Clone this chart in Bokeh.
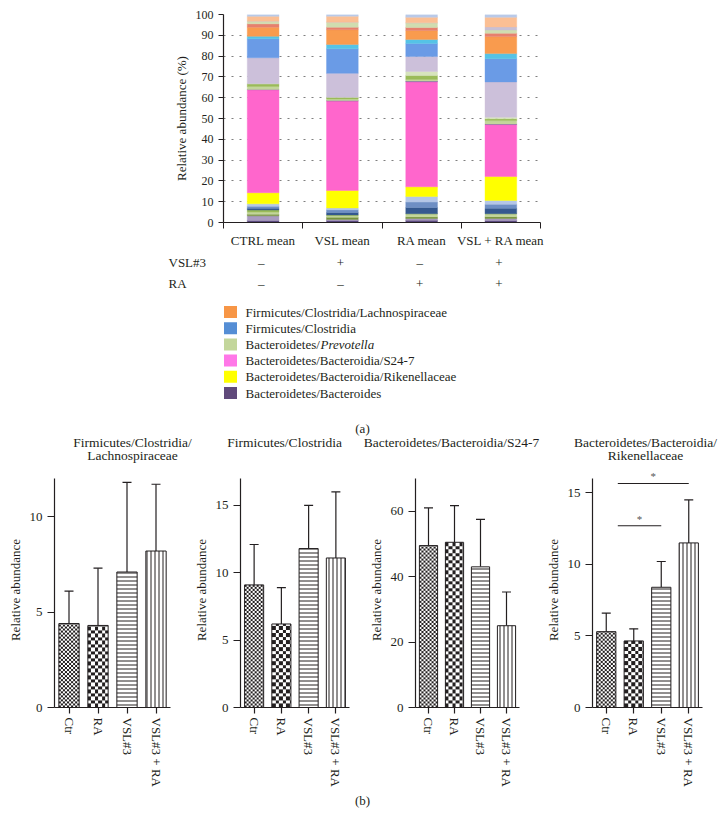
import numpy as np
from bokeh.plotting import figure
from bokeh.layouts import column, row
from bokeh.models import Range1d, FixedTicker, ColumnDataSource, Whisker, TeeHead
from bokeh.embed import file_html
from bokeh.resources import INLINE
from bokeh.core.properties import value

FONT = "Liberation Serif"
INK = "#231f20"

# ---------------- (a) data: mean relative abundance (%) ----------------
groups_a = ["CTRL mean", "VSL mean", "RA mean", "VSL + RA mean"]
vsl3_flags = ["\u2013", "+", "\u2013", "+"]
ra_flags = ["\u2013", "\u2013", "+", "+"]

# stack, bottom to top; values in order CTRL, VSL, RA, VSL+RA
bacteroides = [1.0, 1.0, 1.1, 1.0]
other_lavender_lo = [2.2, 0.5, 0.8, 0.9]
other_green_dk = [0.8, 1.0, 0.8, 0.9]
other_green_lt = [1.0, 0.8, 1.5, 1.4]
other_olive = [1.0, 0.3, 0.0, 0.0]
other_blue_dk = [0.8, 1.2, 3.0, 2.6]
other_blue_md = [1.0, 1.3, 2.6, 2.0]
other_blue_lt = [1.2, 0.9, 2.7, 1.8]
rikenellaceae = [5.3, 8.4, 4.65, 11.5]
s24_7 = [49.5, 43.0, 50.5, 25.0]
other_purple = [0.2, 0.2, 0.35, 0.3]
prevotella = [1.4, 0.8, 0.8, 1.6]
other_green_md = [1.3, 0.8, 1.9, 0.9]
other_green_pale = [0.0, 0.0, 1.9, 0.7]
other_lavender = [12.5, 11.5, 7.2, 17.0]
clostridia = [9.1, 11.8, 6.2, 11.1]
other_cyan = [1.2, 2.1, 2.0, 2.5]
lachnospiraceae = [4.4, 7.1, 4.3, 8.2]
other_salmon = [1.6, 1.2, 1.5, 1.6]
other_green_top = [1.3, 2.4, 2.2, 1.5]
other_grey = [0.0, 0.0, 0.0, 1.5]
other_peach = [2.3, 2.9, 2.7, 4.7]
other_top = [0.9, 0.8, 1.3, 1.3]

stack_series = [
    ("bacteroides", bacteroides, "#5b4a7e"),
    ("other_lavender_lo", other_lavender_lo, "#a99bc0"),
    ("other_green_dk", other_green_dk, "#77933c"),
    ("other_green_lt", other_green_lt, "#c3d69b"),
    ("other_olive", other_olive, "#9bbb59"),
    ("other_blue_dk", other_blue_dk, "#35598f"),
    ("other_blue_md", other_blue_md, "#6e8fc4"),
    ("other_blue_lt", other_blue_lt, "#b4c7e7"),
    ("rikenellaceae", rikenellaceae, "#ffff00"),
    ("s24_7", s24_7, "#ff66cc"),
    ("other_purple", other_purple, "#8064a2"),
    ("prevotella", prevotella, "#c3d69b"),
    ("other_green_md", other_green_md, "#9bbb59"),
    ("other_green_pale", other_green_pale, "#d7e4bd"),
    ("other_lavender", other_lavender, "#ccc0da"),
    ("clostridia", clostridia, "#6a9be6"),
    ("other_cyan", other_cyan, "#55c3e6"),
    ("lachnospiraceae", lachnospiraceae, "#f99b4e"),
    ("other_salmon", other_salmon, "#e6806e"),
    ("other_green_top", other_green_top, "#d0ddb0"),
    ("other_grey", other_grey, "#c8c0d4"),
    ("other_peach", other_peach, "#fbbf94"),
    ("other_top", other_top, "#b9c9e8"),
]

legend_labels = [
    "Firmicutes/Clostridia/Lachnospiraceae",
    "Firmicutes/Clostridia",
    "Bacteroidetes/",
    "Bacteroidetes/Bacteroidia/S24-7",
    "Bacteroidetes/Bacteroidia/Rikenellaceae",
    "Bacteroidetes/Bacteroides",
]
legend_colors = ["#f79646", "#558ed5", "#c3d69b", "#ff77e8", "#ffff00", "#604a7b"]

# ---------------- (b) data: per-group mean and upper error ----------------
groups_b = ["Ctr", "RA", "VSL#3", "VSL#3 + RA"]
lachno_mean = [4.4, 4.3, 7.1, 8.2]
lachno_upper = [6.1, 7.3, 11.8, 11.7]
clost_mean = [9.1, 6.2, 11.8, 11.1]
clost_upper = [12.1, 8.9, 15.0, 16.0]
s247_mean = [49.5, 50.5, 43.0, 25.0]
s247_upper = [61.0, 61.7, 57.5, 35.3]
rik_mean = [5.3, 4.65, 8.4, 11.5]
rik_upper = [6.6, 5.5, 10.2, 14.5]
sig_x0 = [0.42, 0.42]
sig_x1 = [2.0, 3.0]
sig_y = [12.7, 15.65]
star_x = [1.21, 1.71]
star_y = [13.2, 16.15]

W = 725

# ---------------- panel (a) stacked bars ----------------
A_LEFT, A_FRAME_W = 223, 317
A_H = 252
pa = figure(width=W, height=A_H, x_range=Range1d(0, 4), y_range=Range1d(0, 100),
            output_backend="svg", toolbar_location=None,
            min_border_left=A_LEFT, min_border_right=W - A_LEFT - A_FRAME_W,
            min_border_top=14, min_border_bottom=30)
pa.title.visible = False
pa.outline_line_color = None
src_a = ColumnDataSource(dict(x=[0.5, 1.5, 2.5, 3.5], **{k: v for k, v, c in stack_series}))
keys = [k for k, v, c in stack_series]
cols = [c for k, v, c in stack_series]
pa.vbar_stack(keys, x="x", width=0.4, source=src_a, fill_color=cols, line_color=cols, line_width=0.4)

pa.xgrid.visible = False
pa.ygrid.ticker = FixedTicker(ticks=list(range(10, 101, 10)))
pa.ygrid.grid_line_color = "#7f7f7f"
pa.ygrid.grid_line_dash = "2 6"
pa.ygrid.grid_line_width = 1

pa.yaxis.ticker = FixedTicker(ticks=list(range(0, 101, 10)))
pa.yaxis.axis_label = "Relative abundance (%)"
pa.yaxis.minor_tick_line_color = None
pa.yaxis.major_tick_out = 5
pa.yaxis.major_tick_in = 0
pa.yaxis.major_label_standoff = 5
pa.yaxis.axis_label_standoff = 4

pa.xaxis.ticker = FixedTicker(ticks=[0.5, 1.5, 2.5, 3.5], minor_ticks=[0, 1, 2, 3, 4])
pa.xaxis.major_label_overrides = {0.5 + i: g for i, g in enumerate(groups_a)}
pa.xaxis.major_tick_out = 0
pa.xaxis.major_tick_in = 0
pa.xaxis.minor_tick_out = 6
pa.xaxis.minor_tick_in = 0
pa.xaxis.minor_tick_line_color = INK
pa.xaxis.major_label_standoff = 4

for ax in (pa.xaxis[0], pa.yaxis[0]):
    ax.axis_line_color = INK
    ax.axis_line_width = 1.2
    ax.major_tick_line_color = INK
    ax.major_label_text_font = FONT
    ax.major_label_text_font_size = "12px"
    ax.major_label_text_color = INK
    ax.axis_label_text_font = FONT
    ax.axis_label_text_font_size = "13px"
    ax.axis_label_text_font_style = "normal"
    ax.axis_label_text_color = INK
pa.xaxis.major_label_text_font_size = "13px"
pa.xaxis.major_tick_line_color = None


def blank(width, top, height):
    p = figure(width=width, height=height, x_range=Range1d(0, width),
               y_range=Range1d(top + height, top),
               output_backend="svg", toolbar_location=None,
               x_axis_location=None, y_axis_location=None,
               min_border_left=0, min_border_right=0, min_border_top=0, min_border_bottom=0)
    p.title.visible = False
    p.outline_line_color = None
    p.grid.visible = False
    return p


def txt(p, xs, ys, texts, size="13px", align="center", style="normal", color=INK):
    p.text(x=xs, y=ys, text=texts, text_font=value(FONT), text_font_size=size,
           text_align=align, text_baseline="middle", text_color=color, text_font_style=style)


# ---------------- annotation strip (signs, legend, (a), panel titles) ----------------
B_TOP, B_H = A_H, 470 - A_H
pb = blank(W, B_TOP, B_H)
centers = [A_LEFT + (i + 0.5) * A_FRAME_W / 4 - 2 for i in range(4)]
txt(pb, [168], [262], ["VSL#3"], align="left")
txt(pb, [168], [283], ["RA"], align="left")
txt(pb, centers, [262] * 4, vsl3_flags)
txt(pb, centers, [283] * 4, ra_flags)

leg_y = [311.5 + 16.2 * i for i in range(len(legend_labels))]
pb.rect(x=[230] * 6, y=leg_y, width=13, height=12, fill_color=legend_colors, line_color=None)
txt(pb, [245] * 6, leg_y, legend_labels, align="left")
txt(pb, [320], [leg_y[2]], ["Prevotella"], align="left", style="italic")
txt(pb, [362], [428], ["(a)"])

title_x = [132, 132, 284, 451, 645, 645]
title_y = [442, 455, 442, 442, 442, 455]
title_t = ["Firmicutes/Clostridia/", "Lachnospiraceae", "Firmicutes/Clostridia",
           "Bacteroidetes/Bacteroidia/S24-7", "Bacteroidetes/Bacteroidia/", "Rikenellaceae"]
txt(pb, title_x, title_y, title_t, size="13.5px")

# ---------------- panel (b) bar charts ----------------
patterns = [" ", " ", "horizontal_line", "vertical_line"]
fill_alpha = [0.0, 0.0, 1.0, 1.0]
checker_cell = [2.0, 3.5, 0, 0]   # checkerboard square size (px) for Ctr and RA
scales = [4.0, 4.0, 4.0, 4.0]
FH, AXH = 235, 229
BAR_W = 0.7
SS = 2  # supersampling of the checker texture


def checker_image(h_px, w_px, cell_px):
    ny = max(1, int(round(h_px * SS)))
    nx = max(1, int(round(w_px * SS)))
    c = int(round(cell_px * SS))
    yy, xx = np.mgrid[0:ny, 0:nx]
    dark = ((xx // c + yy // c) % 2) == 0
    rgba = np.empty((ny, nx, 4), dtype=np.uint8)
    rgba[...] = (255, 255, 255, 255)
    rgba[dark] = (0x23, 0x1f, 0x20, 255)
    return rgba.view(np.uint32).reshape(ny, nx)


def panel(means, uppers, ymax, ticks, fig_w, left, frame_w, sig=False):
    p = figure(width=fig_w, height=320, x_range=Range1d(-0.5, 3.5),
               y_range=Range1d(0, ymax * FH / AXH),
               output_backend="svg", toolbar_location=None,
               min_border_left=left, min_border_right=fig_w - left - frame_w,
               min_border_top=2, min_border_bottom=83)
    p.title.visible = False
    p.outline_line_color = None
    p.grid.visible = False
    ppu_y = AXH / ymax
    bar_w_px = BAR_W * frame_w / 4
    for i in range(4):
        if checker_cell[i] > 0:
            img = checker_image(means[i] * ppu_y, bar_w_px, checker_cell[i])
            p.image_rgba(image=[img], x=i - BAR_W / 2, y=0, dw=BAR_W, dh=means[i])
    src = ColumnDataSource(dict(x=[0, 1, 2, 3], top=means, upper=uppers,
                                pat=patterns, sc=scales, fa=fill_alpha))
    p.vbar(x="x", top="top", bottom=0, width=BAR_W, source=src, fill_color="white",
           fill_alpha="fa", line_color=INK, line_width=1, hatch_pattern="pat",
           hatch_scale="sc", hatch_color=INK, hatch_weight=1)
    p.add_layout(Whisker(source=src, base="x", upper="upper", lower="top",
                         line_color=INK, line_width=1.2,
                         upper_head=TeeHead(size=9, line_color=INK, line_width=1.2),
                         lower_head=None))
    if sig:
        p.segment(x0=sig_x0, y0=sig_y, x1=sig_x1, y1=sig_y, line_color=INK, line_width=1.2)
        p.text(x=star_x, y=star_y, text=["*", "*"], text_font=value(FONT),
               text_font_size="11px", text_align="center", text_baseline="middle",
               text_color="#555555")
    p.yaxis.ticker = FixedTicker(ticks=ticks)
    p.yaxis.bounds = (0, ymax)
    p.yaxis.axis_label = "Relative abundance"
    p.yaxis.major_tick_out = 7
    p.yaxis.major_tick_in = 0
    p.yaxis.minor_tick_line_color = None
    p.yaxis.major_label_standoff = 5
    p.yaxis.axis_label_standoff = 4
    p.xaxis.ticker = FixedTicker(ticks=[0, 1, 2, 3])
    p.xaxis.major_label_overrides = {i: g for i, g in enumerate(groups_b)}
    p.xaxis.major_label_orientation = "vertical"
    p.xaxis.major_tick_out = 6
    p.xaxis.major_tick_in = 0
    p.xaxis.minor_tick_line_color = None
    p.xaxis.major_label_standoff = 4
    for ax in (p.xaxis[0], p.yaxis[0]):
        ax.axis_line_color = INK
        ax.axis_line_width = 1.2
        ax.major_tick_line_color = INK
        ax.major_tick_line_width = 1.2
        ax.major_label_text_font = FONT
        ax.major_label_text_font_size = "13px"
        ax.major_label_text_color = INK
        ax.axis_label_text_font = FONT
        ax.axis_label_text_font_size = "13px"
        ax.axis_label_text_font_style = "normal"
        ax.axis_label_text_color = INK
    return p


p1 = panel(lachno_mean, lachno_upper, 12, [0, 5, 10], 190, 54, 116)
p2 = panel(clost_mean, clost_upper, 17, [0, 5, 10, 15], 175, 50, 109)
p3 = panel(s247_mean, s247_upper, 70, [0, 20, 40, 60], 175, 48, 106)
p4 = panel(rik_mean, rik_upper, 16, [0, 5, 10, 15], 185, 52, 110, sig=True)

pd_ = blank(W, 790, 22)
txt(pd_, [362], [800], ["(b)"])

layout = column(pa, row(pb), row(p1, p2, p3, p4), row(pd_))
open("out.html", "w").write(file_html(layout, INLINE))
